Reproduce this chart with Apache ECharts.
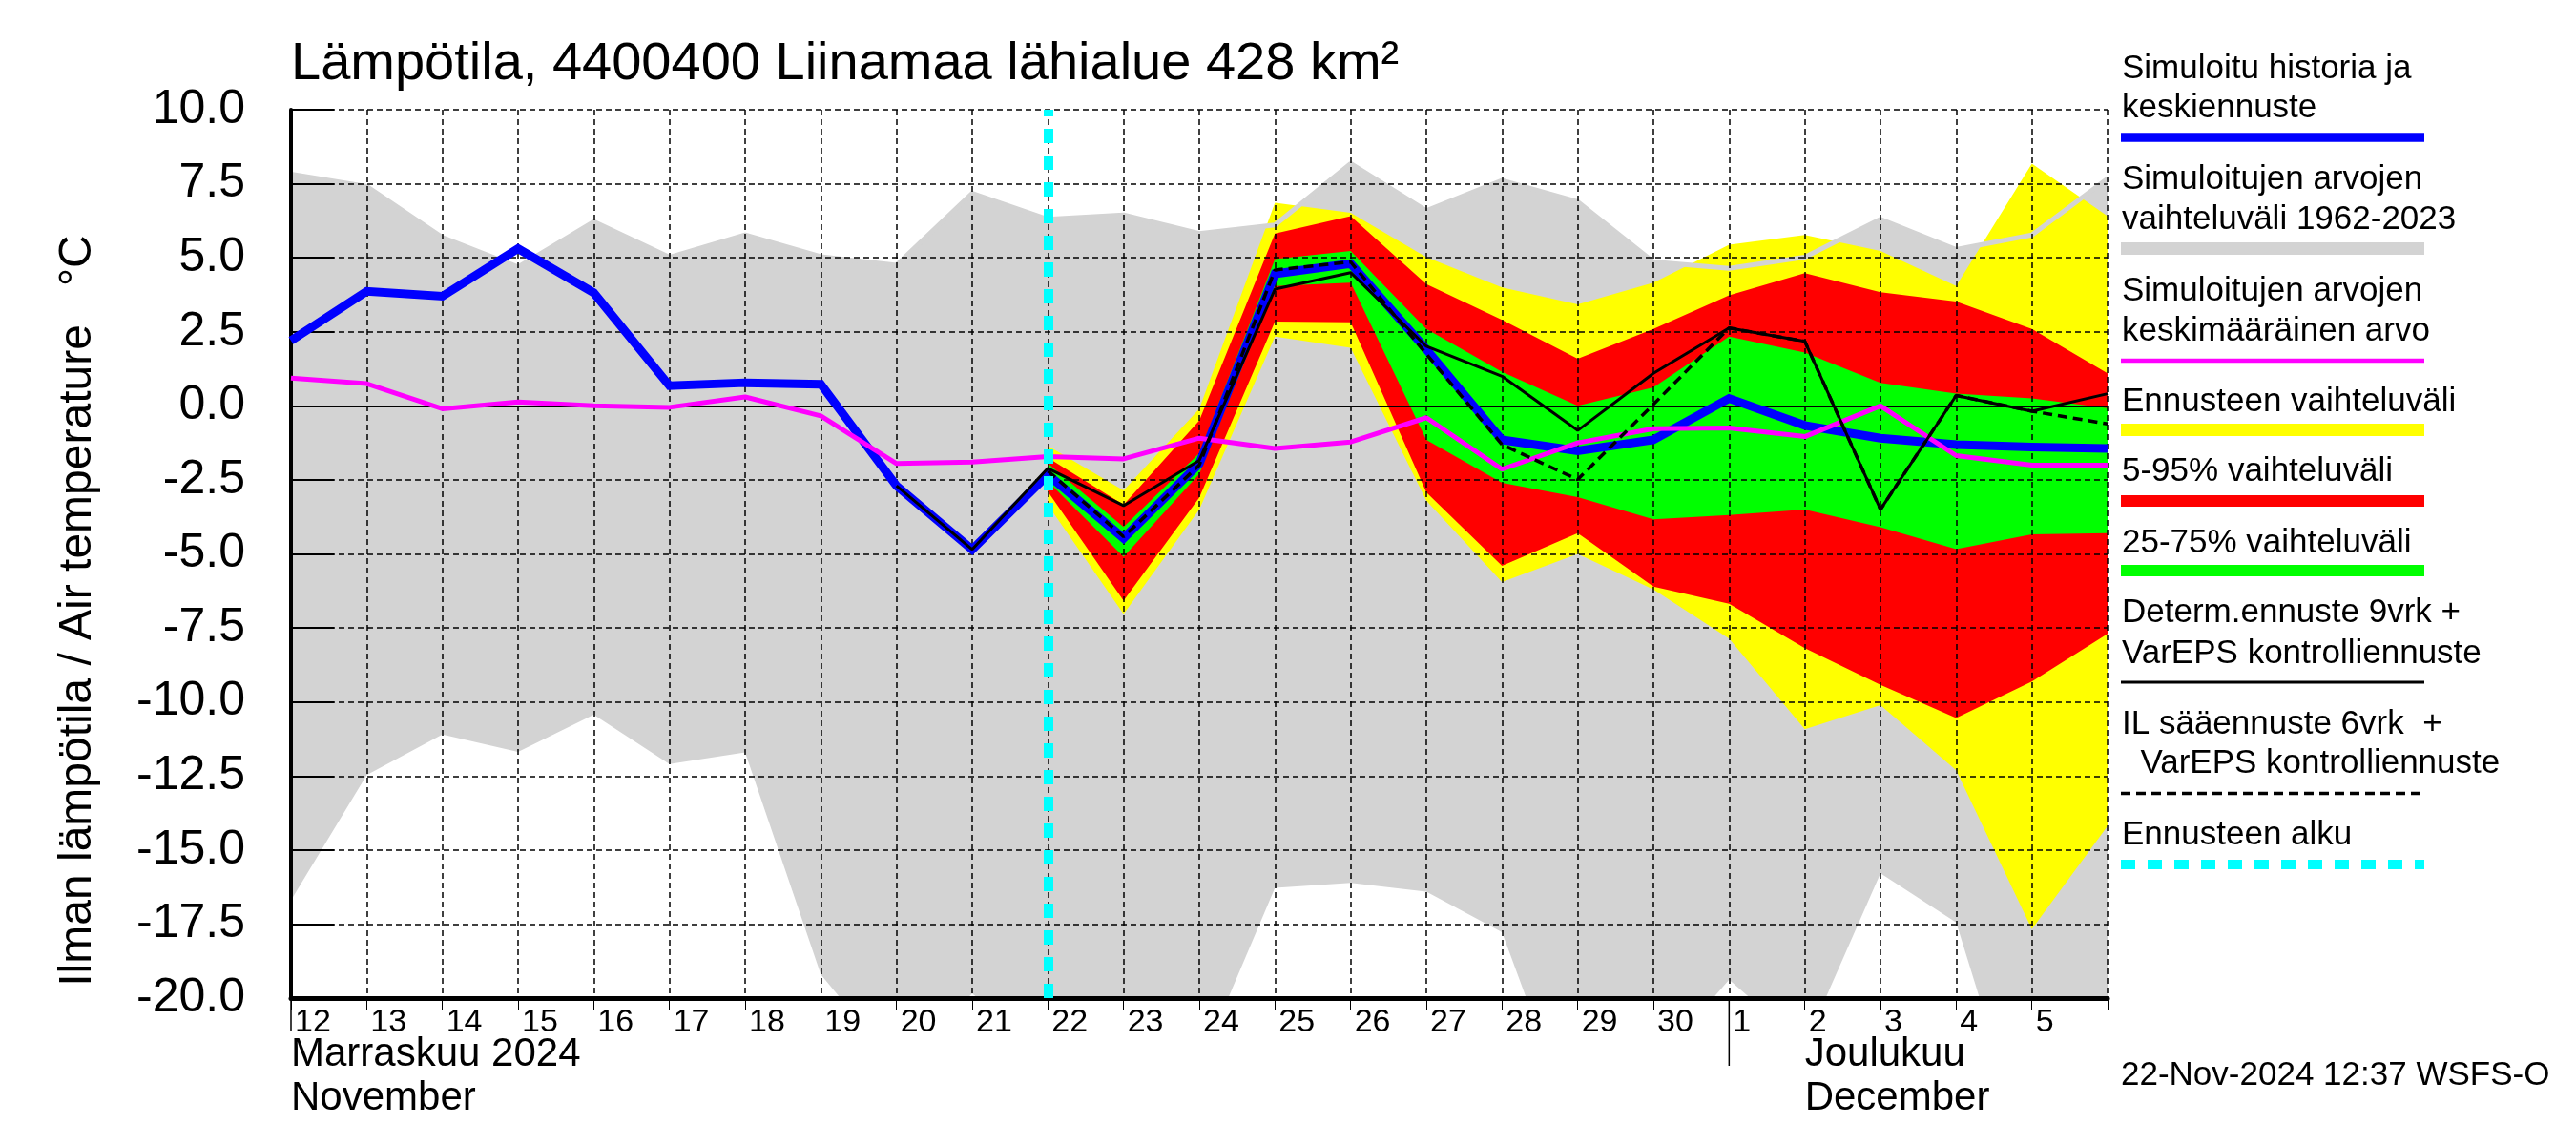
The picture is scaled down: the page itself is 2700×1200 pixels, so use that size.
<!DOCTYPE html>
<html>
<head>
<meta charset="utf-8">
<script src="https://cdn.jsdelivr.net/npm/echarts@6/dist/echarts.min.js"></script>
<style>
html,body{margin:0;padding:0;background:#ffffff;}
#c{width:2700px;height:1200px;}
</style>
</head>
<body>
<div id="c"></div>
<script>
// ---------------- DATA ----------------
// Days 12 Nov 2024 ... 6 Dec 2024 (one point per day at 00:00)
const dayLabels = ['12','13','14','15','16','17','18','19','20','21','22','23','24','25','26','27','28','29','30','1','2','3','4','5','6'];
const forecastStartIndex = 10; // 22 Nov
const monthStartIndex = 19;    // 1 Dec

// Simulated history + median forecast (blue)
const simMedian = [2.2, 3.87, 3.70, 5.31, 3.82, 0.68, 0.78, 0.73, -2.7, -4.85, -2.33, -4.47, -1.95, 4.46, 4.80, 1.91, -1.15, -1.52, -1.15, 0.25, -0.66, -1.09, -1.31, -1.39, -1.44];
// Mean of simulated values 1962-2023 (magenta)
const simMean = [0.94, 0.75, -0.10, 0.13, 0.0, -0.05, 0.30, -0.34, -1.95, -1.9, -1.71, -1.79, -1.09, -1.44, -1.22, -0.40, -2.14, -1.25, -0.77, -0.75, -1.04, 0.0, -1.68, -2.0, -2.0];
// Range of simulated values 1962-2023 (grey)
const histMax = [7.83, 7.41, 5.69, 4.69, 6.22, 5.02, 5.77, 5.04, 4.75, 7.18, 6.30, 6.45, 5.82, 6.11, 8.18, 6.59, 7.61, 6.89, 4.86, 4.64, 5.02, 6.30, 5.28, 5.77, 7.67];
const histMin = [-16.7, -12.47, -11.1, -11.69, -10.43, -12.1, -11.7, -19.2, -22.3, -19.85, -21.9, -22.0, -22.3, -16.28, -16.11, -16.41, -17.78, -24.7, -22.3, -19.38, -21.6, -15.79, -17.45, -25.7, -25.0];
// Forecast full range (yellow)
const fcMax = [null,null,null,null,null,null,null,null,null,null, -1.35, -2.86, -0.1, 6.86, 6.52, 5.02, 4.0, 3.43, 4.16, 5.44, 5.77, 5.23, 4.05, 8.18, 6.41];
const fcMin = [null,null,null,null,null,null,null,null,null,null, -3.35, -7.03, -3.5, 2.34, 1.96, -3.2, -5.95, -5.0, -6.2, -7.86, -10.92, -10.11, -12.31, -17.67, -14.19];
// 5-95 % range (red)
const p95 = [null,null,null,null,null,null,null,null,null,null, -1.75, -3.34, -0.5, 5.82, 6.41, 4.11, 2.9, 1.59, 2.6, 3.73, 4.48, 3.84, 3.52, 2.6, 1.1];
const p05 = [null,null,null,null,null,null,null,null,null,null, -2.9, -6.58, -3.1, 2.85, 2.82, -2.92, -5.4, -4.3, -6.1, -6.68, -8.18, -9.42, -10.54, -9.31, -7.7];
// 25-75 % range (green)
const p75 = [null,null,null,null,null,null,null,null,null,null, -1.95, -4.09, -1.6, 4.96, 5.23, 2.60, 1.15, 0.0, 0.62, 2.34, 1.8, 0.78, 0.41, 0.25, -0.08];
const p25 = [null,null,null,null,null,null,null,null,null,null, -2.55, -5.1, -2.3, 4.05, 4.16, -1.15, -2.6, -3.08, -3.83, -3.69, -3.5, -4.1, -4.84, -4.34, -4.3];
// Deterministic 9 d + VarEPS control (black solid)
const determ = [null,null,null,null,null,null,null,null, -2.7, -4.85, -2.11, -3.37, -1.84, 3.94, 4.50, 2.01, 1.0, -0.83, 1.10, 2.63, 2.18, -3.5, 0.35, -0.18, 0.41];
// IL weather forecast 6 d + VarEPS control (black dashed)
const ilFc = [null,null,null,null,null,null,null,null,null,null, -2.2, -4.42, -2.0, 4.59, 4.86, 1.75, -1.31, -2.49, 0.05, 2.63, 2.18, -3.5, 0.35, -0.18, -0.61];

const yMin = -20, yMax = 10, yStep = 2.5;

const titleText = 'Lämpötila, 4400400 Liinamaa lähialue 428 km²';
const yAxisTitle = 'Ilman lämpötila / Air temperature   °C';
const monthLabels1 = ['Marraskuu 2024', 'November'];
const monthLabels2 = ['Joulukuu', 'December'];
const stampText = '22-Nov-2024 12:37 WSFS-O';
const legendTexts = [
  ['Simuloitu historia ja', 'keskiennuste'],
  ['Simuloitujen arvojen', 'vaihteluväli 1962-2023'],
  ['Simuloitujen arvojen', 'keskimääräinen arvo'],
  ['Ennusteen vaihteluväli'],
  ['5-95% vaihteluväli'],
  ['25-75% vaihteluväli'],
  ['Determ.ennuste 9vrk +', 'VarEPS kontrolliennuste'],
  ['IL sääennuste 6vrk  +', '  VarEPS kontrolliennuste'],
  ['Ennusteen alku']
];

// ---------------- STYLE ----------------
const FONT = '"Liberation Sans", Arial, Helvetica, sans-serif';
const C = {grey:'#d3d3d3', yellow:'#ffff00', red:'#ff0000', green:'#00ff00', blue:'#0000ff', magenta:'#ff00ff', cyan:'#00ffff', black:'#000000'};

const chart = echarts.init(document.getElementById('c'), null, {renderer:'canvas'});

function deltas(lo, hi){
  return hi.map((v,i) => (v == null || lo[i] == null) ? null : +(v - lo[i]).toFixed(3));
}
function band(id, lo, hi, color){
  return [
    {name:id+'Lo', type:'line', stack:id, stackStrategy:'all', data:lo, symbol:'none',
     lineStyle:{width:0, opacity:0}, z:1, silent:true, animation:false},
    {name:id, type:'line', stack:id, stackStrategy:'all', data:deltas(lo,hi), symbol:'none',
     lineStyle:{width:0, opacity:0}, areaStyle:{color:color, opacity:1}, z:1, silent:true, animation:false}
  ];
}

const series = [].concat(
  band('hist', histMin, histMax, C.grey),
  band('fc', fcMin, fcMax, C.yellow),
  band('p5', p05, p95, C.red),
  band('p25', p25, p75, C.green),
  [
    {name:'histMaxLine', type:'line', data:histMax, symbol:'none', z:1, silent:true, animation:false,
     lineStyle:{color:C.grey, width:5},
     markLine:{silent:true, symbol:['none','none'], z:2, animation:false, label:{show:false},
       lineStyle:{color:C.black, width:2, type:'solid'}, data:[{yAxis:0}]}},
    {name:'median', type:'line', data:simMedian, symbol:'none', z:3, silent:true, animation:false,
     lineStyle:{color:C.blue, width:9, join:'miter'}},
    {name:'mean', type:'line', data:simMean, symbol:'none', z:4, silent:true, animation:false,
     lineStyle:{color:C.magenta, width:5}},
    {name:'determ', type:'line', data:determ, symbol:'none', z:5, silent:true, animation:false,
     lineStyle:{color:C.black, width:3}},
    {name:'il', type:'line', data:ilFc, symbol:'none', z:6, silent:true, animation:false,
     lineStyle:{color:C.black, width:3.5, type:[10,6]},
     markLine:{silent:true, symbol:['none','none'], z:10, animation:false, label:{show:false},
       lineStyle:{color:C.cyan, width:10, type:[15,13]}, data:[{xAxis:forecastStartIndex}]}}
  ]
);

chart.setOption({
  animation:false,
  backgroundColor:'#ffffff',
  grid:{left:305, top:115, width:1904, height:931, containLabel:false},
  xAxis:{
    type:'category', data:dayLabels, boundaryGap:false, z:2,
    axisLine:{show:true, onZero:false, lineStyle:{color:C.black, width:5}},
    axisTick:{show:true, interval:0, length:12, lineStyle:{color:C.black, width:1}},
    axisLabel:{show:true, interval:0, align:'left', margin:9, fontSize:34, fontFamily:FONT, color:C.black,
      padding:[0,0,0,4], formatter:(v, i) => i === dayLabels.length - 1 ? '' : v},
    splitLine:{show:true, interval:0, lineStyle:{color:C.black, width:1.5, type:[6,4]}}
  },
  yAxis:{
    type:'value', min:yMin, max:yMax, interval:yStep, z:2,
    axisLine:{show:true, onZero:false, lineStyle:{color:C.black, width:4}},
    axisTick:{show:true, inside:true, length:45, lineStyle:{color:C.black, width:2}},
    axisLabel:{show:true, margin:48, fontSize:50, fontFamily:FONT, color:C.black,
      formatter:v => v.toFixed(1)},
    splitLine:{show:true, lineStyle:{color:C.black, width:1.5, type:[6,4]}}
  },
  series:series
});

// ---------------- TEXT / LEGEND GRAPHICS ----------------
function txt(id, text, x, baseline, fs, extra){
  return Object.assign({type:'text', id:id, x:x, y:baseline - 0.35*fs, z:20, silent:true,
    style:{text:text, fontSize:fs, fontFamily:FONT, fill:C.black, align:'left', verticalAlign:'middle'}}, extra||{});
}
const g = [];
g.push(txt('title', titleText, 305, 87, 56));
g.push({type:'text', id:'yname', x:82, y:640, rotation:Math.PI/2, z:20, silent:true,
  style:{text:yAxisTitle, fontSize:48, fontFamily:FONT, fill:C.black, align:'center', verticalAlign:'middle'}});

// month labels at first day and at month change
const p0 = chart.convertToPixel({xAxisIndex:0, yAxisIndex:0}, [0, yMin]);
const pm = chart.convertToPixel({xAxisIndex:0, yAxisIndex:0}, [monthStartIndex, yMin]);
const pm2 = chart.convertToPixel({xAxisIndex:0, yAxisIndex:0}, [monthStartIndex + 1, yMin]);
g.push(txt('m1a', monthLabels1[0], p0[0], 1120, 42));
g.push(txt('m1b', monthLabels1[1], p0[0], 1166, 42));
g.push(txt('m2a', monthLabels2[0], pm2[0], 1120, 42));
g.push(txt('m2b', monthLabels2[1], pm2[0], 1166, 42));
g.push({type:'line', id:'sep0', z:20, silent:true, shape:{x1:p0[0], y1:p0[1], x2:p0[0], y2:p0[1]+34}, style:{stroke:C.black, lineWidth:1.5}});
g.push({type:'line', id:'sep1', z:20, silent:true, shape:{x1:pm[0], y1:pm[1], x2:pm[0], y2:pm[1]+71}, style:{stroke:C.black, lineWidth:1.5}});
g.push(txt('stamp', stampText, 2223, 1140, 35));

// legend
const LX = 2224, LX2 = 2541, LFS = 35;
const legendLayout = [
  {base:[85,126], bar:{y:144, h:9.5, color:C.blue}},
  {base:[201,243], bar:{y:260.5, h:13, color:C.grey}},
  {base:[318,360], bar:{y:378, h:4.5, color:C.magenta}},
  {base:[434], bar:{y:450.5, h:13, color:C.yellow}},
  {base:[507], bar:{y:525, h:12, color:C.red}},
  {base:[582], bar:{y:598, h:12, color:C.green}},
  {base:[655,698], bar:{y:715, h:3, color:C.black}},
  {base:[772,813], bar:{y:831.5, h:3.5, color:C.black, dash:[10,6]}},
  {base:[888], bar:{y:906, h:10, color:C.cyan, dash:[15,13]}}
];
legendTexts.forEach((lines, k) => {
  const L = legendLayout[k];
  lines.forEach((t, j) => g.push(txt('lt'+k+'_'+j, t, LX, L.base[j], LFS)));
  g.push({type:'line', id:'lb'+k, z:20, silent:true,
    shape:{x1:LX-1, y1:L.bar.y, x2:LX2, y2:L.bar.y},
    style:{stroke:L.bar.color, lineWidth:L.bar.h, lineDash:L.bar.dash || null}});
});

chart.setOption({graphic:g});
</script>
</body>
</html>
